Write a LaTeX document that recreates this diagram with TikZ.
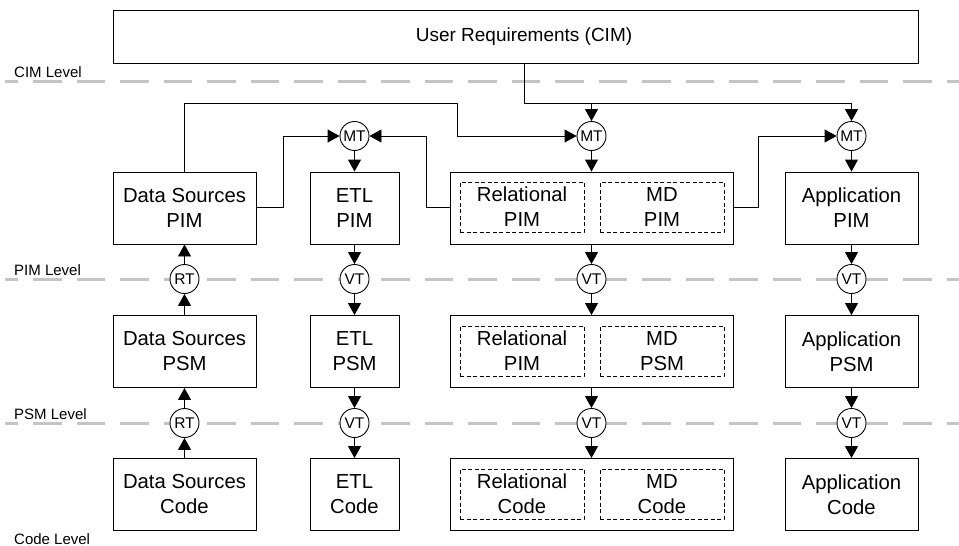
\documentclass[tikz,border=0pt]{standalone}
\usepackage{fontspec}
\setmainfont{Liberation Sans}
\usetikzlibrary{arrows.meta}
\definecolor{levelgray}{RGB}{196,196,196}
\begin{document}
\begin{tikzpicture}[x=1pt,y=-1pt,
  box/.style={draw, line width=0.9pt, minimum height=72pt, inner sep=0pt, align=center, font=\fontsize{20.3}{25}\selectfont},
  ibox/.style={draw, dash pattern=on 4pt off 2.5pt, line width=0.9pt, minimum width=124pt, minimum height=50pt, inner sep=0pt, align=center, font=\fontsize{20.3}{25}\selectfont},
  tr/.style={circle, draw, fill=white, line width=0.9pt, minimum size=29pt, inner sep=0pt, font=\fontsize{15.5}{16}\selectfont},
  arr/.style={line width=0.9pt, -{Triangle[width=13pt,length=12pt]}},
  lvl/.style={draw=levelgray, line width=3pt, dash pattern=on 28.5pt off 15pt, dash phase=15.5pt},
  lbl/.style={anchor=west, inner sep=0pt, font=\fontsize{15}{15}\selectfont}]
\fill[white] (0,0) rectangle (959,546);
\useasboundingbox (0,0) rectangle (959,546);
% level lines
\coordinate (c0) at (5,81);   \coordinate (c1) at (959,81);
\coordinate (p0) at (5,279);  \coordinate (p1) at (959,279);
\coordinate (s0) at (5,423);  \coordinate (s1) at (959,423);
\draw[lvl] (c0) -- (c1);
\draw[lvl] (p0) -- (p1);
\draw[lvl] (s0) -- (s1);
\node[lbl] (lcim) at (14,72) {CIM Level};
\node[lbl] (lpim) at (14,270) {PIM Level};
\node[lbl] (lpsm) at (14,414) {PSM Level};
\node[lbl] (lcode) at (14,539) {Code Level};
% user requirements
\node[box, minimum width=805pt, minimum height=53pt] (ur) at (515.5,36.5) {};
\node[font=\fontsize{19}{24}\selectfont, inner sep=0pt] (urt) at (524,36.5) {User Requirements (CIM)};
% data sources
\node[box, minimum width=143pt] (dspim) at (184.5,208) {Data Sources\\PIM};
\node[box, minimum width=143pt] (dspsm) at (184.5,351.5) {Data Sources\\PSM};
\node[box, minimum width=143pt] (dscode) at (184.5,494.5) {Data Sources\\Code};
% ETL
\node[box, minimum width=89pt] (etlpim) at (354.5,208) {ETL\\PIM};
\node[box, minimum width=89pt] (etlpsm) at (354.5,351.5) {ETL\\PSM};
\node[box, minimum width=89pt] (etlcode) at (354.5,494.5) {ETL\\Code};
% containers
\node[box, minimum width=283pt] (dwpim) at (591.5,208) {};
\node[box, minimum width=283pt] (dwpsm) at (591.5,351.5) {};
\node[box, minimum width=283pt] (dwcode) at (591.5,494.5) {};
\node[ibox] (relpim) at (522,207) {Relational\\PIM};
\node[ibox] (mdpim) at (662,207) {MD\\PIM};
\node[ibox] (relpsm) at (522,351) {Relational\\PIM};
\node[ibox] (mdpsm) at (662,351) {MD\\PSM};
\node[ibox] (relcode) at (522,494) {Relational\\Code};
\node[ibox] (mdcode) at (662,494) {MD\\Code};
% application
\node[box, minimum width=133pt] (apppim) at (851.5,208) {Application\\PIM};
\node[box, minimum width=133pt] (apppsm) at (851.5,351.5) {Application\\PSM};
\node[box, minimum width=133pt] (appcode) at (851.5,494.5) {Application\\Code};
% transformations
\node[tr] (mt1) at (354.5,136) {MT};
\node[tr] (mt2) at (591.5,136) {MT};
\node[tr] (mt4) at (851.5,136) {MT};
\node[tr] (rt1) at (184.5,279) {RT};
\node[tr] (rt2) at (184.5,423) {RT};
\node[tr] (vt1) at (354.5,279) {VT};
\node[tr] (vt2) at (354.5,423) {VT};
\node[tr] (vt3) at (591.5,279) {VT};
\node[tr] (vt4) at (591.5,423) {VT};
\node[tr] (vt5) at (851.5,279) {VT};
\node[tr] (vt6) at (851.5,423) {VT};
% routing coordinates
\coordinate (j1) at (524,103);
\coordinate (k1) at (457,103);
\coordinate (k2) at (283,136);
\coordinate (k3) at (426,136);
\coordinate (k4) at (758,136);
% connectors to MT
\draw[arr] (j1 |- ur.south) -- (j1) -| (mt4.north);
\draw[arr] (mt2 |- j1) -- (mt2.north);
\draw[arr] (dspim.north) |- (k1) |- (mt2.west);
\draw[arr] (dspim.east |- 0,207) -| (k2) -- (mt1.west);
\draw[arr] (dwpim.west |- 0,207) -| (k3) -- (mt1.east);
\draw[arr] (dwpim.east |- 0,207) -| (k4) -- (mt4.west);
\draw[arr] (mt1) -- (etlpim);
\draw[arr] (mt2) -- (dwpim);
\draw[arr] (mt4) -- (apppim);
% vertical chains
\draw[arr] (rt1) -- (dspim);
\draw[arr] (dspsm) -- (rt1);
\draw[arr] (rt2) -- (dspsm);
\draw[arr] (dscode) -- (rt2);
\draw[arr] (etlpim) -- (vt1);
\draw[arr] (vt1) -- (etlpsm);
\draw[arr] (etlpsm) -- (vt2);
\draw[arr] (vt2) -- (etlcode);
\draw[arr] (dwpim) -- (vt3);
\draw[arr] (vt3) -- (dwpsm);
\draw[arr] (dwpsm) -- (vt4);
\draw[arr] (vt4) -- (dwcode);
\draw[arr] (apppim) -- (vt5);
\draw[arr] (vt5) -- (apppsm);
\draw[arr] (apppsm) -- (vt6);
\draw[arr] (vt6) -- (appcode);
\end{tikzpicture}
\end{document}
